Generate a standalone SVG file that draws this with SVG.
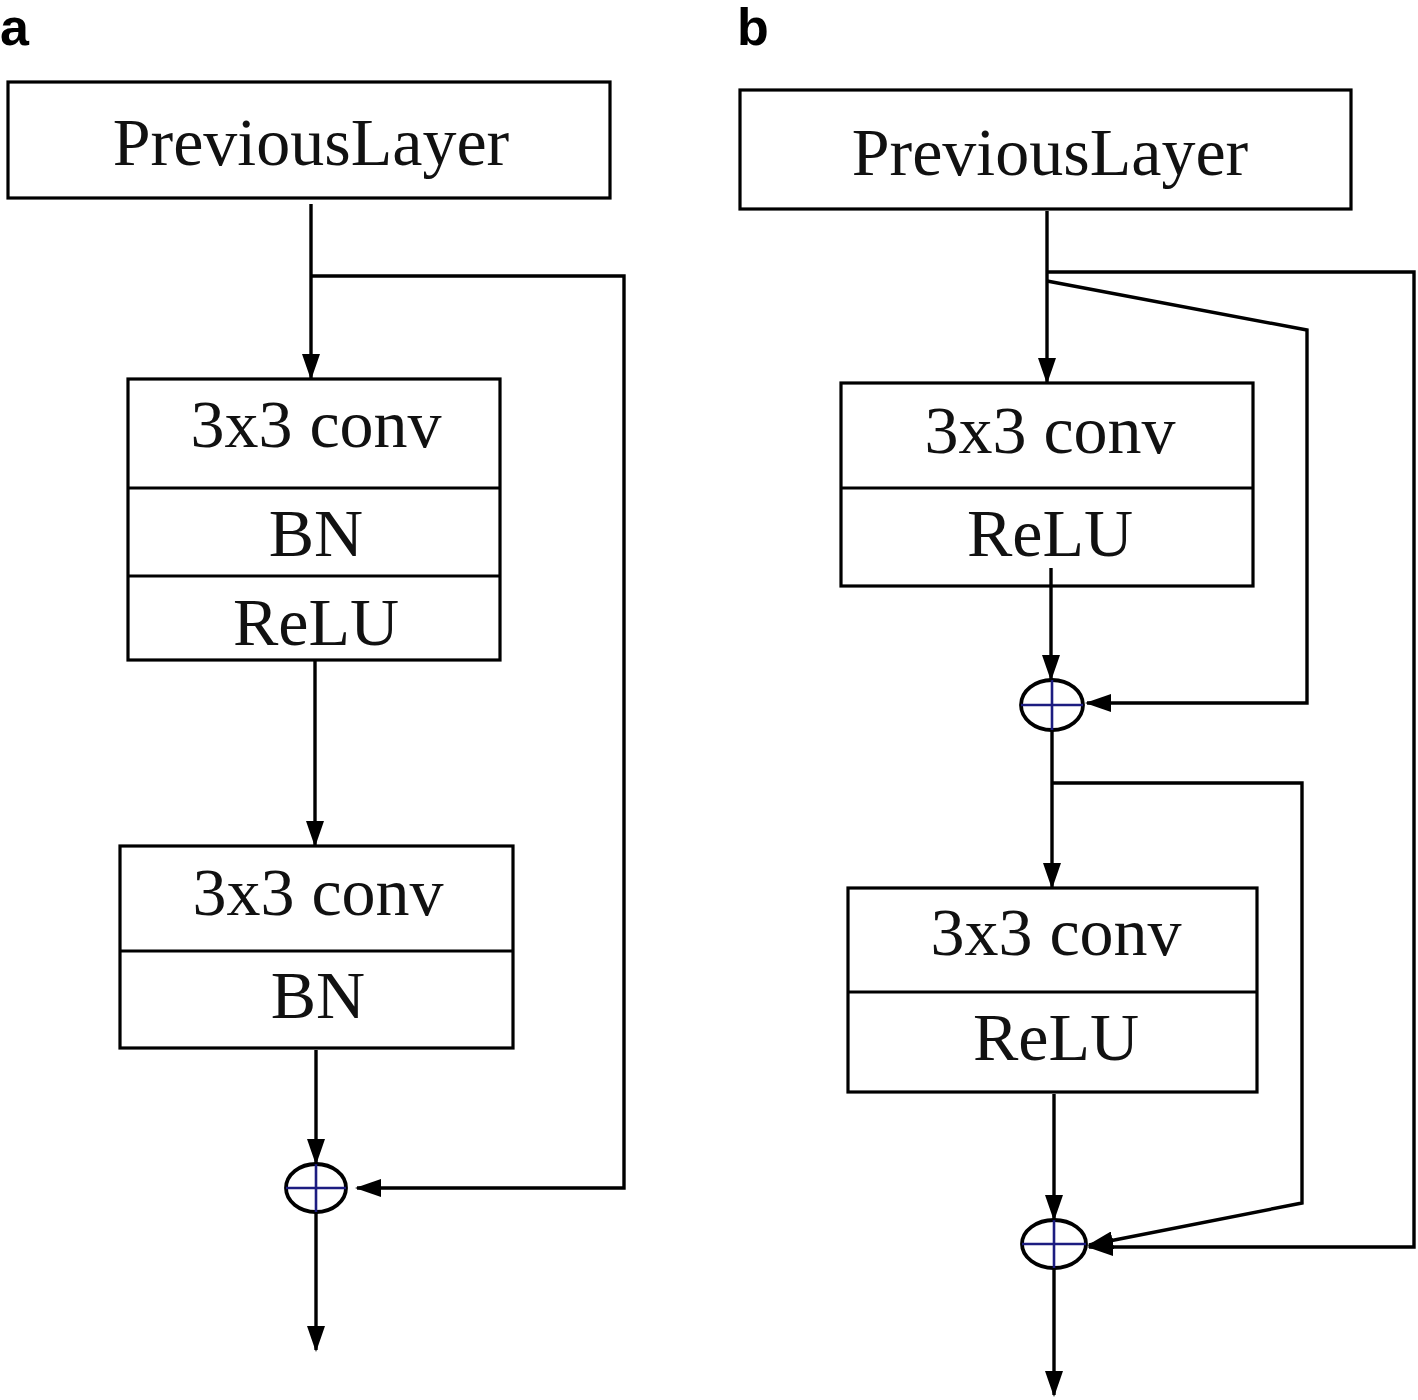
<svg xmlns="http://www.w3.org/2000/svg" width="1418" height="1400" viewBox="0 0 1418 1400">
<defs>
<marker id="ah" markerWidth="26" markerHeight="18" refX="24" refY="9" orient="auto" markerUnits="userSpaceOnUse">
<path d="M0,0 L26,9 L0,18 Z" fill="#000"/>
</marker>
<style>
.box{fill:#fff;stroke:#000;stroke-width:3.2}
.div{stroke:#000;stroke-width:3.2}
.t{font-family:"Liberation Serif","Times New Roman",serif;font-size:68px;fill:#111;text-anchor:middle}
.lab{font-family:"Liberation Sans",Arial,sans-serif;font-size:52px;font-weight:bold;fill:#000}
.ar{fill:none;stroke:#000;stroke-width:3.4;marker-end:url(#ah)}
.sum{fill:#fff;stroke:#000;stroke-width:3.8}
.plus{stroke:#1c1c80;stroke-width:2.6}
</style>
</defs>
<rect width="1418" height="1400" fill="#fff"/>
<text class="lab" x="0" y="45">a</text>
<text class="lab" x="737" y="45">b</text>

<g id="prev-a">
<rect class="box" x="8" y="82" width="602" height="116"/>
<text class="t" x="311" y="165">PreviousLayer</text>
</g>
<g id="block-a1">
<rect class="box" x="128" y="379" width="372" height="281"/>
<line class="div" x1="128" y1="488" x2="500" y2="488"/>
<line class="div" x1="128" y1="576" x2="500" y2="576"/>
<text class="t" x="316" y="447">3x3 conv</text>
<text class="t" x="316" y="556">BN</text>
<text class="t" x="316" y="645">ReLU</text>
</g>
<g id="block-a2">
<rect class="box" x="120" y="846" width="393" height="202"/>
<line class="div" x1="120" y1="951" x2="513" y2="951"/>
<text class="t" x="318" y="915">3x3 conv</text>
<text class="t" x="318" y="1018">BN</text>
</g>
<g id="sum-a">
<ellipse class="sum" cx="316" cy="1188" rx="30" ry="24"/>
<line class="plus" x1="316" y1="1164" x2="316" y2="1212"/>
<line class="plus" x1="286" y1="1188" x2="346" y2="1188"/>
</g>

<g id="prev-b">
<rect class="box" x="740" y="90" width="611" height="119"/>
<text class="t" x="1050" y="175">PreviousLayer</text>
</g>
<g id="block-b1">
<rect class="box" x="841" y="383" width="412" height="203"/>
<line class="div" x1="841" y1="488" x2="1253" y2="488"/>
<text class="t" x="1050" y="453">3x3 conv</text>
<text class="t" x="1050" y="556">ReLU</text>
</g>
<g id="sum-b1">
<ellipse class="sum" cx="1052" cy="705" rx="31" ry="25"/>
<line class="plus" x1="1052" y1="680" x2="1052" y2="730"/>
<line class="plus" x1="1021" y1="705" x2="1083" y2="705"/>
</g>
<g id="block-b2">
<rect class="box" x="848" y="888" width="409" height="204"/>
<line class="div" x1="848" y1="992" x2="1257" y2="992"/>
<text class="t" x="1056" y="955">3x3 conv</text>
<text class="t" x="1056" y="1060">ReLU</text>
</g>
<g id="sum-b2">
<ellipse class="sum" cx="1054" cy="1244" rx="32" ry="24"/>
<line class="plus" x1="1054" y1="1220" x2="1054" y2="1268"/>
<line class="plus" x1="1022" y1="1244" x2="1086" y2="1244"/>
</g>

<g id="connectors">
<!-- panel a -->
<path class="ar" d="M311,204 L311,378"/>
<path class="ar" d="M311,276 L624,276 L624,1188 L357,1188"/>
<path class="ar" d="M315,661 L315,845"/>
<path class="ar" d="M316,1050 L316,1163"/>
<path class="ar" d="M316,1213 L316,1350"/>
<!-- panel b -->
<path class="ar" d="M1047,211 L1047,382"/>
<path class="ar" d="M1047,272 L1414,272 L1414,1247 L1089,1247"/>
<path class="ar" d="M1047,281 L1307,330 L1307,703 L1087,703"/>
<path class="ar" d="M1051,568 L1051,679"/>
<path class="ar" d="M1052,731 L1052,887"/>
<path class="ar" d="M1053,783 L1302,783 L1302,1203 L1089,1245"/>
<path class="ar" d="M1054,1094 L1054,1219"/>
<path class="ar" d="M1054,1269 L1054,1395"/>
</g>
</svg>
